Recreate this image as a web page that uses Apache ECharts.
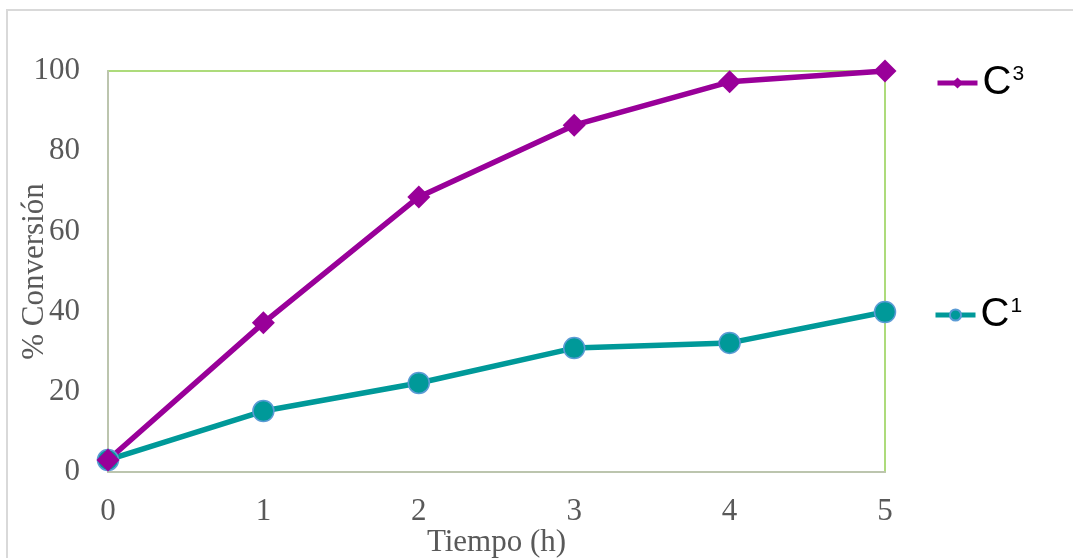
<!DOCTYPE html>
<html>
<head>
<meta charset="utf-8">
<script src="https://cdn.jsdelivr.net/npm/echarts@6/dist/echarts.min.js"></script>
<style>
  html, body { margin: 0; padding: 0; background: #ffffff; }
  #chart { width: 1073px; height: 558px; }
</style>
</head>
<body>
<div id="chart"></div>
<script>
// Conversion (%) versus reaction time (h) for two catalysts
const hours = [0, 1, 2, 3, 4, 5];
const yTicks = [0, 20, 40, 60, 80, 100];
const seriesNames = ['C1', 'C3'];
const conversionC1 = [3.0, 15.2, 22.2, 30.9, 32.2, 39.9];
const conversionC3 = [3.0, 37.2, 68.6, 86.5, 97.3, 100.0];

const axisFont = { fontFamily: 'Liberation Serif', fontSize: 31, color: '#595959' };

function pairs(xs, ys) { return xs.map((x, i) => [x, ys[i]]); }

// Legend text: "C" with a superscript index
function legendLabel(name) {
  return '{b|' + name.charAt(0) + '}{sup|' + name.slice(1) + '}';
}
const legendText = {
  fontFamily: 'Liberation Sans',
  color: '#000000',
  rich: {
    b: { fontFamily: 'Liberation Sans', fontSize: 40, color: '#000000' },
    sup: { fontFamily: 'Liberation Sans', fontSize: 21, color: '#000000', padding: [0, 0, 17, 1] }
  }
};

const chart = echarts.init(document.getElementById('chart'), null, { renderer: 'canvas' });
chart.setOption({
  animation: false,
  backgroundColor: '#ffffff',
  graphic: [{
    type: 'rect',
    shape: { x: 7, y: 10, width: 1080, height: 570 },
    style: { fill: 'none', stroke: '#d9d9d9', lineWidth: 2 },
    silent: true, z: -10
  }],
  grid: {
    left: 108, right: 188, top: 71, bottom: 86,
    containLabel: false, outerBoundsMode: 'none',
    show: true, borderColor: '#92d050', borderWidth: 1.5, backgroundColor: 'transparent'
  },
  legend: [
    {
      data: [seriesNames[1]], left: 930, top: 58, orient: 'vertical',
      itemWidth: 40, itemHeight: 14, itemGap: 0,
      lineStyle: { width: 5 },
      formatter: legendLabel, textStyle: legendText
    },
    {
      data: [seriesNames[0]], left: 928, top: 290, orient: 'vertical',
      itemWidth: 40, itemHeight: 14, itemGap: 0,
      lineStyle: { width: 5 },
      formatter: legendLabel, textStyle: legendText
    }
  ],
  xAxis: {
    type: 'value', min: hours[0], max: hours[hours.length - 1], interval: 1,
    name: 'Tiempo (h)', nameLocation: 'middle', nameGap: 55, nameMoveOverlap: false,
    nameTextStyle: axisFont,
    axisLine: { show: true, lineStyle: { color: '#bcc5ae', width: 2 } },
    axisTick: { show: false },
    splitLine: { show: false },
    axisLabel: Object.assign({ margin: 24 }, axisFont)
  },
  yAxis: {
    type: 'value', min: yTicks[0], max: yTicks[yTicks.length - 1], interval: 20,
    name: '% Conversión', nameLocation: 'middle', nameGap: 58, nameMoveOverlap: false,
    nameTextStyle: axisFont,
    axisLine: { show: true, lineStyle: { color: '#bcc5ae', width: 2 } },
    axisTick: { show: false },
    splitLine: { show: false },
    axisLabel: Object.assign({ margin: 28 }, axisFont)
  },
  series: [
    {
      name: seriesNames[0], type: 'line',
      data: pairs(hours, conversionC1),
      symbol: 'circle', symbolSize: 21,
      lineStyle: { color: '#009999', width: 5.5 },
      itemStyle: { color: '#009999', borderColor: '#5b9bd5', borderWidth: 1.5 }
    },
    {
      name: seriesNames[1], type: 'line',
      data: pairs(hours, conversionC3),
      symbol: 'diamond', symbolSize: 23,
      lineStyle: { color: '#990099', width: 5.5 },
      itemStyle: { color: '#990099' }
    }
  ]
});
</script>
</body>
</html>
